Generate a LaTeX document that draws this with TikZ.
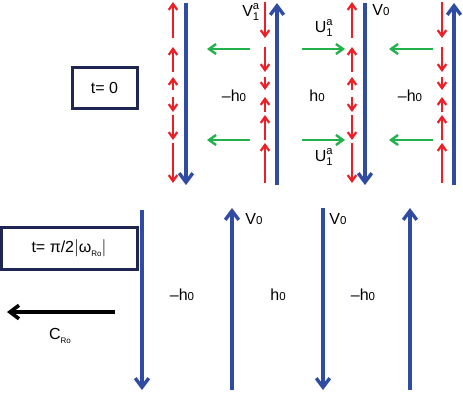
\documentclass[tikz,border=0pt]{standalone}
\usepackage{fontspec}
\setmainfont{Liberation Sans}
\usetikzlibrary{arrows.meta}
\definecolor{myblue}{RGB}{48,76,162}
\definecolor{myred}{RGB}{236,30,38}
\definecolor{mygreen}{RGB}{34,178,76}
\definecolor{navy}{RGB}{32,38,84}
\newcommand\zr{{\fontsize{11.5}{11.5}\selectfont 0}}
\newcommand\subtxt[1]{\raisebox{-0.5ex}{\fontsize{8}{8}\selectfont #1}}
\begin{document}
\begin{tikzpicture}[x=1pt,y=-1pt,
  bluearr/.style={draw=myblue,line width=3.4pt,-{Straight Barb[length=9pt,width=13.5pt]}},
  redarr/.style={draw=myred,line width=2.2pt,-{Straight Barb[length=6pt,width=8.5pt]}},
  greenarr/.style={draw=mygreen,line width=2.4pt,-{Straight Barb[length=7pt,width=10pt]}},
  blackarr/.style={draw=black,line width=3.6pt,-{Straight Barb[length=9pt,width=13.5pt]}},
  lbl/.style={font=\fontsize{16}{16}\selectfont,inner sep=0pt},
  tbox/.style={draw=navy,line width=3pt}]
\useasboundingbox (0,0) rectangle (463,392);
% ---------- top panel: red arrows
\foreach \x in {173,352}{
  \draw[redarr] (\x,38)--(\x,2);
  \draw[redarr] (\x,72)--(\x,47);
  \draw[redarr] (\x,90)--(\x,77);
  \draw[redarr] (\x,97)--(\x,112);
  \draw[redarr] (\x,115)--(\x,140);
  \draw[redarr] (\x,143)--(\x,183);
}
\foreach \x in {265,442}{
  \draw[redarr] (\x,2)--(\x,38);
  \draw[redarr] (\x,47)--(\x,72);
  \draw[redarr] (\x,77)--(\x,90);
  \draw[redarr] (\x,112)--(\x,97);
  \draw[redarr] (\x,140)--(\x,115);
  \draw[redarr] (\x,183)--(\x,143);
}
% blue arrows top
\draw[bluearr] (186,3)--(186,185);
\draw[bluearr] (277,185)--(277,3);
\draw[bluearr] (365,3)--(365,185);
\draw[bluearr] (454,185)--(454,3);
% green arrows
\foreach \y in {49,140}{
  \draw[greenarr] (250,\y)--(207,\y);
  \draw[greenarr] (302,\y)--(345,\y);
  \draw[greenarr] (433,\y)--(389,\y);
}
% labels top
\node[lbl] (v1a) at (251,12) {$\mathrm{V}_{\mathrm{1}}^{\mathrm{a}}$};
\node[lbl] (u1a) at (324,28) {$\mathrm{U}_{\mathrm{1}}^{\mathrm{a}}$};
\node[lbl] (u1b) at (324,157) {$\mathrm{U}_{\mathrm{1}}^{\mathrm{a}}$};
\node[lbl] (v0t) at (381,10) {V\zr};
\node[lbl] (h1) at (234,96) {–h\zr};
\node[lbl] (h2) at (317,96) {h\zr};
\node[lbl] (h3) at (410,96) {–h\zr};
% box t=0
\draw[tbox] (72,67) rectangle (137,108);
\node[lbl] (t0) at (104.5,88) {t= 0};
% ---------- bottom panel
\draw[tbox] (1,227) rectangle (137,269);
\node[lbl] (t1) at (69,248) {t= π/2$\bigl|$ω\subtxt{Ro}$\bigr|$};
\draw[blackarr] (115,312)--(7,312);
\node[lbl] (cro) at (60,336) {C\subtxt{Ro}};
\draw[bluearr] (142,210)--(142,390);
\draw[bluearr] (232,390)--(232,208);
\draw[bluearr] (323,208)--(323,390);
\draw[bluearr] (410,390)--(410,208);
\node[lbl] (h4) at (182,295) {–h\zr};
\node[lbl] (h5) at (278,295) {h\zr};
\node[lbl] (h6) at (363,295) {–h\zr};
\node[lbl] (v0a) at (254,219) {V\zr};
\node[lbl] (v0b) at (338,219) {V\zr};
\end{tikzpicture}
\end{document}
